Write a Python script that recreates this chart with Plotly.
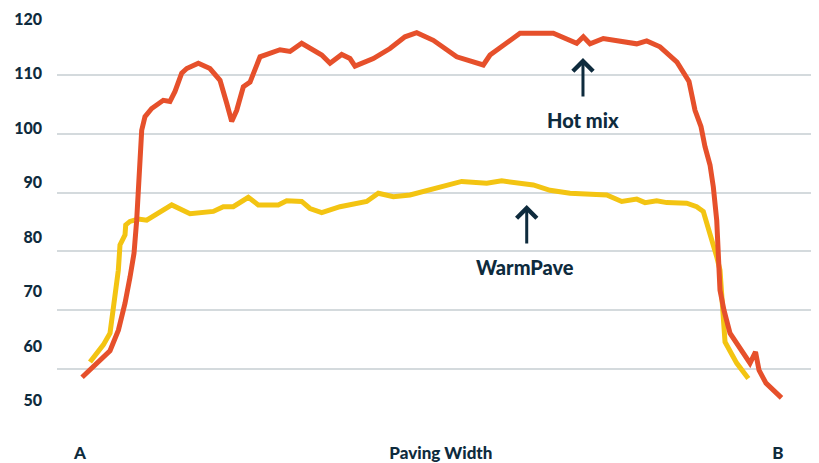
import plotly.graph_objects as go

# Position across the paving width (A = 0, B = 100)
hot_x = [0.3, 4.3, 5.5, 6.45, 7.16, 7.74, 8.12, 8.45, 8.74, 8.84, 9.31, 10.27, 11.93, 12.89,
         13.61, 14.57, 15.29, 16.95, 18.62, 20.06, 21.02, 21.73, 22.45, 23.4, 24.36, 25.79,
         28.65, 30.09, 31.76, 34.63, 35.82, 37.49, 38.68, 39.4, 42.02, 44.41, 46.56, 48.24,
         50.62, 52.54, 53.97, 57.78, 58.74, 63.04, 67.81, 71.16, 72.11, 73.07, 74.97, 79.76,
         81.19, 83.09, 85.53, 87.25, 88.11, 88.97, 89.54, 90.26, 90.73, 91.22, 91.45, 91.69,
         92.26, 93.12, 95.99, 96.78, 97.28, 98.28, 100.5]
hot_mix = [58.6, 63.1, 66.6, 71.2, 75.6, 79.7, 85.3, 92.1, 96.4, 100.6, 102.9, 104.3, 105.7, 105.5,
           107.2, 110.3, 111.1, 112.0, 111.1, 109.1, 105.2, 102.1, 104.0, 108.0, 108.8, 113.1,
           114.3, 114.0, 115.4, 113.4, 112.0, 113.5, 112.8, 111.5, 112.8, 114.5, 116.5, 117.2,
           115.9, 114.3, 113.1, 111.7, 113.4, 117.1, 117.1, 115.4, 116.5, 115.3, 116.2, 115.3,
           115.8, 114.8, 112.2, 108.9, 104.0, 101.2, 97.8, 94.7, 91.0, 85.3, 78.5, 73.4,
           70.0, 66.1, 61.0, 62.9, 59.8, 57.6, 55.1]

warm_x = [1.43, 3.34, 4.3, 5.01, 5.49, 5.73, 6.45, 6.55, 7.16, 8.35, 9.56, 13.14, 15.76, 19.1,
          20.53, 21.96, 24.11, 25.54, 28.41, 29.61, 31.76, 32.95, 34.63, 37.25, 41.07, 42.74,
          44.89, 47.28, 50.62, 54.68, 58.27, 60.42, 64.94, 67.34, 70.2, 75.46, 77.61, 79.76,
          80.95, 82.62, 84.06, 86.92, 88.35, 89.3, 91.22, 91.69, 92.41, 94.08, 95.75]
warm_pave = [61.2, 64.1, 66.1, 71.7, 76.8, 81.1, 82.8, 84.5, 85.1, 85.5, 85.3, 87.9, 86.4, 86.8,
             87.6, 87.6, 89.2, 87.9, 87.9, 88.6, 88.5, 87.3, 86.6, 87.6, 88.5, 89.9,
             89.3, 89.6, 90.7, 91.9, 91.6, 92.0, 91.3, 90.4, 89.9, 89.6, 88.5, 88.9,
             88.3, 88.6, 88.3, 88.2, 87.6, 86.8, 79.1, 76.8, 64.6, 61.0, 58.4]

grid_vals = [60, 70, 80, 90, 100, 110]
label_vals = [50, 60, 70, 80, 90, 100, 110, 120]
x_tick_vals = [0, 51.7, 100]
x_tick_text = ["A", "Paving Width", "B"]

NAVY = "#0e2b3d"
FAMILY = "Lato Black, Lato, sans-serif"
TICK_FONT = dict(family=FAMILY, size=16, color=NAVY, weight=900)
X_FONT = dict(family=FAMILY, size=17, color=NAVY, weight=900)
ANN_FONT = dict(family=FAMILY, size=20, color=NAVY, weight=900)

fig = go.Figure()
fig.add_trace(go.Scatter(x=warm_x, y=warm_pave, mode="lines", name="WarmPave",
                         line=dict(color="#f3c412", width=5), hoverinfo="skip"))
fig.add_trace(go.Scatter(x=hot_x, y=hot_mix, mode="lines", name="Hot mix",
                         line=dict(color="#e6502b", width=5), hoverinfo="skip"))
# invisible trace to activate the label axis
fig.add_trace(go.Scatter(x=[None], y=[None], yaxis="y2", showlegend=False, hoverinfo="skip"))

# arrows
fig.add_annotation(x=72.06, y=112.9, ax=0, ay=40, text="", showarrow=True,
                   arrowhead=4, arrowwidth=3, arrowsize=1.3, arrowcolor=NAVY)
fig.add_annotation(x=64.0, y=87.9, ax=0, ay=40, text="", showarrow=True,
                   arrowhead=4, arrowwidth=3, arrowsize=1.3, arrowcolor=NAVY)
fig.add_annotation(x=72.06, y=102.35, text="Hot mix", showarrow=False, font=ANN_FONT)
fig.add_annotation(x=63.75, y=77.35, text="WarmPave", showarrow=False, font=ANN_FONT)

# The page body adds an 8px offset, so the figure is 8px smaller than the window.
fig.update_layout(
    width=811, height=455,
    margin=dict(l=49, r=4, t=0, b=30),
    paper_bgcolor="white", plot_bgcolor="white",
    showlegend=False,
    xaxis=dict(range=[-3.295, 105.3], showgrid=False, zeroline=False, showline=False,
               tickvals=x_tick_vals, ticktext=x_tick_text, tickfont=X_FONT,
               ticks="", ticklabelstandoff=8, fixedrange=True),
    yaxis=dict(range=[49.12, 121.394], tickvals=grid_vals, showticklabels=False,
               showgrid=True, gridcolor="#d4dadd", gridwidth=2, zeroline=False,
               showline=False, ticks="", fixedrange=True),
    yaxis2=dict(range=[44.037, 122.018], overlaying="y", side="left", tickvals=label_vals,
                showgrid=False, zeroline=False, showline=False, ticks="",
                tickfont=TICK_FONT, ticklabelstandoff=14, fixedrange=True),
)

fig.write_html("out.html")
